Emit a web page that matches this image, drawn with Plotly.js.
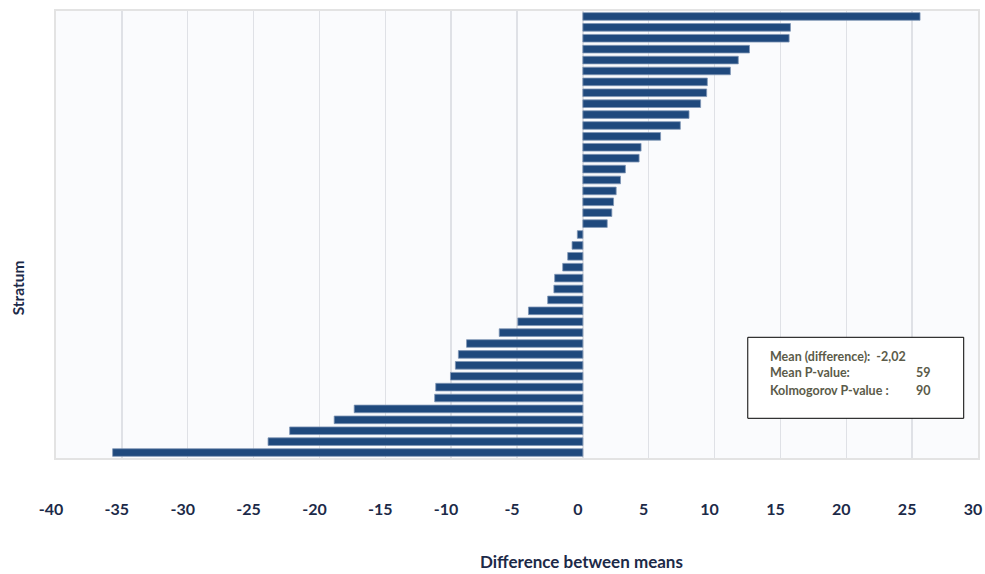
<!DOCTYPE html>
<html>
<head>
<meta charset="utf-8">
<script src="https://cdn.plot.ly/plotly-3.0.1.min.js"></script>
<style>
  html, body { margin: 0; padding: 0; background: #ffffff; }
  #chart { width: 985px; height: 574px; }
</style>
</head>
<body>
<div id="chart"></div>
<script>
// Difference between stratum means, sorted from largest to smallest (top to bottom)
const strata = [];
for (let i = 1; i <= 41; i++) strata.push(i);

const differences = [
  25.6, 15.76, 15.66, 12.65, 11.8, 11.2, 9.45, 9.4, 8.94, 8.06,
  7.4, 5.9, 4.42, 4.27, 3.23, 2.86, 2.53, 2.33, 2.2, 1.85,
  -0.42, -0.82, -1.15, -1.53, -2.14, -2.2, -2.67, -4.13, -4.94, -6.35,
  -8.83, -9.45, -9.68, -10.05, -11.17, -11.25, -17.36, -18.88, -22.26, -23.9,
  -35.7
];

const xTicks = [-40, -35, -30, -25, -20, -15, -10, -5, 0, 5, 10, 15, 20, 25, 30];

// Summary statistics box
const statLabels = ["Mean P-value:", "Kolmogorov P-value :"];
const statValues = ["59", "90"];
const meanLabel = "Mean (difference):  -2,02";

const FONT = "Lato, 'Open Sans', 'DejaVu Sans', sans-serif";
const AXIS_TEXT = "#1c2a48";
const BOX_TEXT = "#5b5b49";

// plot area in pixels, used to place the stats box and axis titles
const L = 56, T = 10.7, R = 978.3, B = 457.7;
const px = x => (x - L) / (R - L);
const py = y => (B - y) / (B - T);

const trace = {
  type: "bar",
  orientation: "h",
  x: differences,
  y: strata,
  marker: {
    color: "#1f497d",
    line: { color: "#7f95b5", width: 0.8 }
  },
  hoverinfo: "x"
};

const annotations = [
  {
    xref: "paper", yref: "paper",
    x: px(768), y: py(355.7), xanchor: "left", yanchor: "middle",
    text: "<b>" + meanLabel + "</b>", showarrow: false,
    font: { family: FONT, size: 12.5, color: BOX_TEXT }
  },
  {
    xref: "paper", yref: "paper",
    x: px(18), y: py(288), xanchor: "center", yanchor: "middle",
    text: "<b>Stratum</b>", showarrow: false, textangle: -90,
    font: { family: FONT, size: 15.5, color: AXIS_TEXT }
  },
  {
    xref: "paper", yref: "paper",
    x: px(582), y: py(561), xanchor: "center", yanchor: "middle",
    text: "<b>Difference between means</b>", showarrow: false,
    font: { family: FONT, size: 17, color: AXIS_TEXT }
  }
];
const rowsY = [372.3, 390.3];
statLabels.forEach((lab, i) => {
  annotations.push({
    xref: "paper", yref: "paper",
    x: px(768), y: py(rowsY[i]), xanchor: "left", yanchor: "middle",
    text: "<b>" + lab + "</b>", showarrow: false,
    font: { family: FONT, size: 12.5, color: BOX_TEXT }
  });
  annotations.push({
    xref: "paper", yref: "paper",
    x: px(933), y: py(rowsY[i]), xanchor: "right", yanchor: "middle",
    text: "<b>" + statValues[i] + "</b>", showarrow: false,
    font: { family: FONT, size: 12.5, color: BOX_TEXT }
  });
});

const layout = {
  width: 985,
  height: 574,
  margin: { l: L, r: 985 - R, t: T, b: 574 - B, pad: 0 },
  paper_bgcolor: "#ffffff",
  plot_bgcolor: "#fafbfd",
  showlegend: false,
  bargap: 0.3,
  font: { family: FONT },
  xaxis: {
    range: [-40, 30],
    tickvals: xTicks,
    ticktext: xTicks.map(String),
    showgrid: true,
    gridcolor: "#dfe1e6",
    gridwidth: 1.3,
    zeroline: false,
    showline: true,
    mirror: true,
    linecolor: "#e3e3e3",
    linewidth: 2,
    ticks: "",
    ticklabelstandoff: 36,
    ticklabelshift: -5,
    tickfont: { family: FONT, size: 16, color: AXIS_TEXT, weight: "bold" },
    fixedrange: true
  },
  yaxis: {
    range: [41.5, 0.5],
    showticklabels: false,
    showgrid: false,
    zeroline: false,
    showline: true,
    mirror: true,
    linecolor: "#e3e3e3",
    linewidth: 2,
    ticks: "",
    fixedrange: true
  },
  shapes: [
    {
      type: "rect", xref: "paper", yref: "paper",
      x0: px(748), x1: px(964), y0: py(418), y1: py(337),
      fillcolor: "#ffffff",
      line: { color: "#000000", width: 1 },
      layer: "above"
    }
  ],
  annotations: annotations
};

Plotly.newPlot("chart", [trace], layout, { displayModeBar: false, staticPlot: true });
</script>
</body>
</html>
